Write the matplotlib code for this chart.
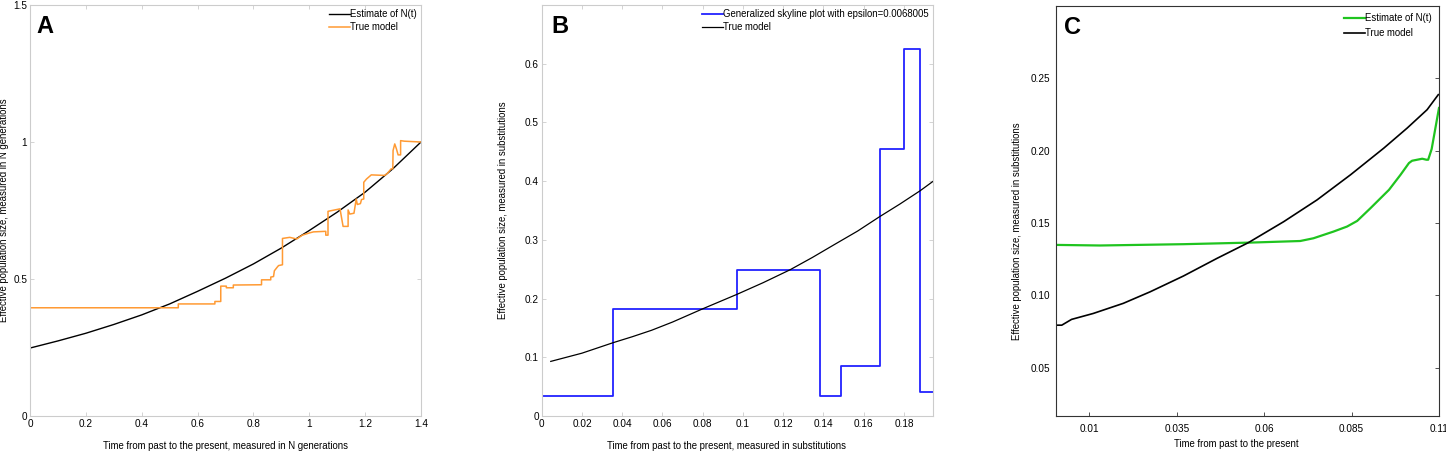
import matplotlib
matplotlib.use("Agg")
import matplotlib.pyplot as plt

plt.rcParams['font.family'] = ['Liberation Sans', 'DejaVu Sans']

# ---------------- Panel A data ----------------
a_est_x = [0.0, 0.1, 0.2, 0.3, 0.4, 0.5, 0.6, 0.7, 0.8, 0.9, 1.0, 1.1, 1.2, 1.3, 1.4]
a_est_y = [0.248, 0.274, 0.302, 0.334, 0.369, 0.409, 0.455, 0.503, 0.555, 0.613,
           0.677, 0.744, 0.817, 0.903, 1.0]
a_true_x = [0.0, 0.531, 0.531, 0.662, 0.662, 0.683, 0.683, 0.703, 0.703, 0.728, 0.728,
            0.829, 0.829, 0.862, 0.862, 0.872, 0.875, 0.885, 0.890, 0.904, 0.904, 0.930,
            0.955, 0.975, 1.0, 1.015, 1.059, 1.059, 1.067, 1.067, 1.110, 1.121, 1.139,
            1.139, 1.145, 1.160, 1.168, 1.172, 1.183, 1.187, 1.195, 1.195, 1.205, 1.222,
            1.270, 1.280, 1.293, 1.299, 1.300, 1.306, 1.312, 1.318, 1.327, 1.327, 1.34, 1.40]
a_true_y = [0.395, 0.395, 0.409, 0.409, 0.418, 0.418, 0.474, 0.474, 0.468, 0.468, 0.478,
            0.479, 0.497, 0.497, 0.507, 0.509, 0.530, 0.543, 0.549, 0.552, 0.648, 0.652,
            0.646, 0.660, 0.668, 0.672, 0.674, 0.660, 0.660, 0.747, 0.756, 0.692, 0.692,
            0.752, 0.737, 0.740, 0.792, 0.772, 0.775, 0.790, 0.792, 0.853, 0.865, 0.880,
            0.878, 0.886, 0.902, 0.902, 0.969, 0.993, 0.975, 0.953, 0.953, 1.005, 1.003, 1.0]
a_xticks = [0, 0.2, 0.4, 0.6, 0.8, 1.0, 1.2, 1.4]
a_xticklabels = ['0', '0.2', '0.4', '0.6', '0.8', '1', '1.2', '1.4']
a_yticks = [0, 0.5, 1.0, 1.5]
a_yticklabels = ['0', '0.5', '1', '1.5']

# ---------------- Panel B data ----------------
b_sky_x = [0.0, 0.0356, 0.0356, 0.0969, 0.0969, 0.1384, 0.1384, 0.1487, 0.1487,
           0.1680, 0.1680, 0.1800, 0.1800, 0.1878, 0.1878, 0.1946]
b_sky_y = [0.0347, 0.0347, 0.183, 0.183, 0.2494, 0.2494, 0.0335, 0.0335, 0.0847,
           0.0847, 0.455, 0.455, 0.625, 0.625, 0.0415, 0.0415]
b_true_x = [0.0045, 0.02, 0.0356, 0.045, 0.0546, 0.065, 0.0803, 0.0969, 0.11, 0.1234,
            0.1345, 0.1457, 0.157, 0.1677, 0.178, 0.188, 0.1946]
b_true_y = [0.093, 0.107, 0.125, 0.135, 0.146, 0.160, 0.183, 0.207, 0.227, 0.249,
            0.270, 0.2925, 0.315, 0.339, 0.361, 0.3835, 0.400]
b_xticks = [0, 0.02, 0.04, 0.06, 0.08, 0.1, 0.12, 0.14, 0.16, 0.18]
b_xticklabels = ['0', '0.02', '0.04', '0.06', '0.08', '0.1', '0.12', '0.14', '0.16', '0.18']
b_yticks = [0, 0.1, 0.2, 0.3, 0.4, 0.5, 0.6]
b_yticklabels = ['0', '0.1', '0.2', '0.3', '0.4', '0.5', '0.6']

# ---------------- Panel C data ----------------
c_est_x = [0.00064, 0.0130, 0.0369, 0.0560, 0.0703, 0.0741, 0.0798, 0.0837, 0.0866,
           0.0904, 0.0957, 0.0990, 0.1014, 0.1023, 0.1052, 0.1064, 0.1069, 0.1079, 0.1100]
c_est_y = [0.1348, 0.1344, 0.1353, 0.1364, 0.1375, 0.1394, 0.1440, 0.1475, 0.1514,
           0.1602, 0.1729, 0.1833, 0.1914, 0.1930, 0.1944, 0.1937, 0.1937, 0.2011, 0.2295]
c_true_x = [0.00064, 0.0021, 0.0049, 0.0111, 0.0197, 0.0274, 0.0369, 0.0465, 0.0555,
            0.0656, 0.0751, 0.0847, 0.0942, 0.1009, 0.1066, 0.1098]
c_true_y = [0.0793, 0.0793, 0.0833, 0.0874, 0.0944, 0.1024, 0.1133, 0.1255, 0.1364,
            0.1509, 0.1659, 0.1833, 0.2017, 0.2156, 0.2283, 0.2387]
c_xticks = [0.01, 0.035, 0.06, 0.085, 0.11]
c_xticklabels = ['0.01', '0.035', '0.06', '0.085', '0.11']
c_yticks = [0.05, 0.10, 0.15, 0.20, 0.25]
c_yticklabels = ['0.05', '0.10', '0.15', '0.20', '0.25']

W, H = 1446, 451
fig = plt.figure(figsize=(W / 100, H / 100), dpi=100)

def box(l, r, t, b):
    return [l / W, (H - b) / H, (r - l) / W, (b - t) / H]

TICK_FS = 7.2
LAB_FS = 6.9
LEG_FS = 6.9

def style(ax, edge, sides_ticks):
    for s in ax.spines.values():
        s.set_color(edge)
        s.set_linewidth(0.8)
    ax.tick_params(direction='in', length=3, width=0.6, color=edge,
                   labelsize=TICK_FS, pad=2, **sides_ticks)

leg_kw = dict(loc='upper right', frameon=False, fontsize=LEG_FS, handlelength=2.2,
              handletextpad=0.0, borderpad=0.2)

# ---- Panel A ----
axA = fig.add_axes(box(30, 421, 5, 416))
axA.plot(a_est_x, a_est_y, color='black', lw=1.0, label='Estimate of N(t)')
axA.plot(a_true_x, a_true_y, color='#ff9a33', lw=1.1, label='True model')
axA.set_xlim(0, 1.4)
axA.set_ylim(0, 1.5)
axA.set_xticks(a_xticks, a_xticklabels)
axA.set_yticks(a_yticks, a_yticklabels)
style(axA, '#cccccc', dict(top=True, right=True, bottom=True, left=True))
axA.set_xlabel('Time from past to the present, measured in N generations', fontsize=LAB_FS)
axA.set_ylabel('Effective population size, measured in N generations', fontsize=LAB_FS)
axA.xaxis.set_label_coords(0.5, -0.061)
axA.yaxis.set_label_coords(-0.053, 0.5)
axA.text(0.017, 0.975, 'A', transform=axA.transAxes, fontsize=17, fontweight='bold', va='top', ha='left')
axA.legend(borderaxespad=0.25, labelspacing=0.3, **leg_kw)

# ---- Panel B ----
axB = fig.add_axes(box(541.7, 933.3, 5, 416))
axB.plot(b_sky_x, b_sky_y, color='#2222ff', lw=1.3, label='Generalized skyline plot with epsilon=0.0068005')
axB.plot(b_true_x, b_true_y, color='black', lw=0.9, label='True model')
axB.set_xlim(0, 0.1946)
axB.set_ylim(0, 0.70)
axB.set_xticks(b_xticks, b_xticklabels)
axB.set_yticks(b_yticks, b_yticklabels)
style(axB, '#cccccc', dict(top=True, right=True, bottom=True, left=True))
axB.set_xlabel('Time from past to the present, measured in substitutions', fontsize=LAB_FS)
axB.set_ylabel('Effective population size, measured in substitutions', fontsize=LAB_FS)
axB.xaxis.set_label_coords(0.473, -0.061)
axB.yaxis.set_label_coords(-0.086, 0.5)
axB.text(0.025, 0.975, 'B', transform=axB.transAxes, fontsize=17, fontweight='bold', va='top', ha='left')
axB.legend(borderaxespad=0.25, labelspacing=0.3, **leg_kw)

# ---- Panel C ----
axC = fig.add_axes(box(1056, 1439, 6, 416))
axC.plot(c_est_x, c_est_y, color='#1fc41f', lw=1.6, label='Estimate of N(t)')
axC.plot(c_true_x, c_true_y, color='black', lw=1.2, label='True model')
axC.set_xlim(0.00045, 0.110)
axC.set_ylim(0.0165, 0.300)
axC.set_xticks(c_xticks, c_xticklabels)
axC.set_yticks(c_yticks, c_yticklabels)
style(axC, '#333333', dict(top=False, right=True, bottom=True, left=False))
axC.tick_params(axis='x', pad=6)
axC.tick_params(axis='y', pad=4)
axC.set_xlabel('Time from past to the present', fontsize=LAB_FS)
axC.set_ylabel('Effective population size, measured in substitutions', fontsize=LAB_FS)
axC.xaxis.set_label_coords(0.47, -0.056)
axC.yaxis.set_label_coords(-0.089, 0.45)
axC.text(0.02, 0.975, 'C', transform=axC.transAxes, fontsize=17, fontweight='bold', va='top', ha='left')
axC.legend(borderaxespad=0.55, labelspacing=0.5, **leg_kw)

fig.savefig('out.png', dpi=100)
